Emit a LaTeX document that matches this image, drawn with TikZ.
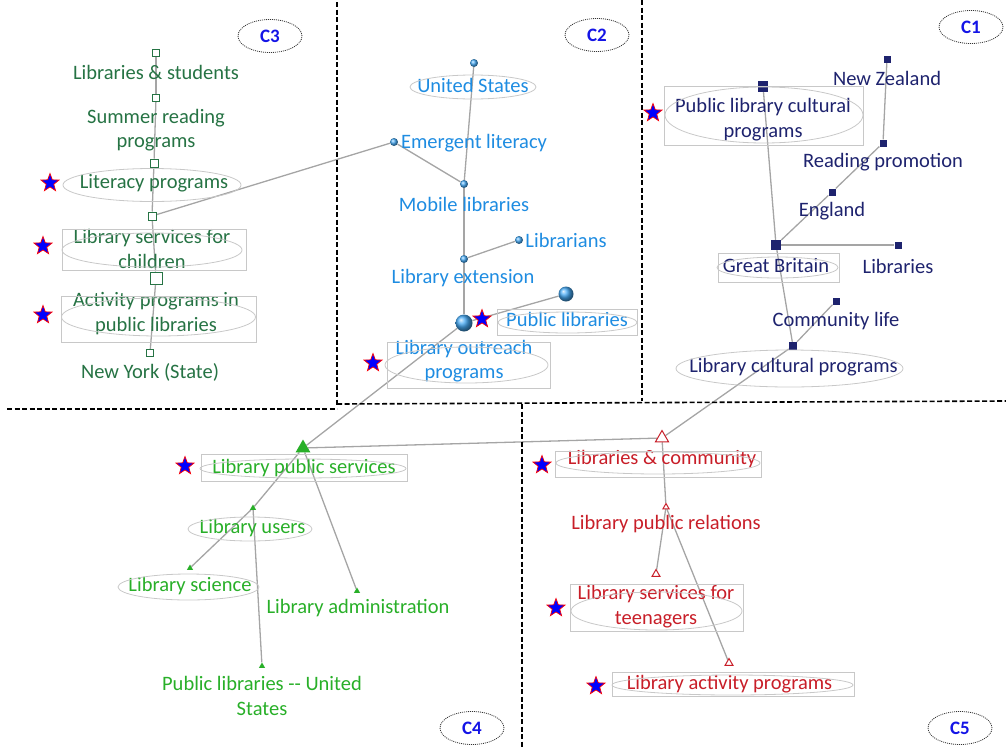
\documentclass[tikz,border=0pt]{standalone}
\usepackage{fontspec}
\setmainfont{Carlito}
\usetikzlibrary{shapes.geometric,backgrounds}
\definecolor{cthree}{RGB}{38,115,68}
\definecolor{ctwo}{RGB}{30,140,225}
\definecolor{cball}{RGB}{70,170,245}
\definecolor{cone}{RGB}{30,35,110}
\definecolor{cfour}{RGB}{40,175,40}
\definecolor{cfive}{RGB}{200,30,40}
\definecolor{edgegray}{RGB}{165,165,165}
\definecolor{framegray}{RGB}{200,200,200}
\definecolor{clusblue}{RGB}{20,20,230}
\begin{document}
\begin{tikzpicture}[x=1pt,y=-1pt,
 lbl/.style={inner sep=0pt, align=center, font=\fontsize{20.5}{24.5}\selectfont},
 ell/.style={draw=framegray, line width=0.8pt},
 frm/.style={draw=framegray, line width=0.8pt},
 edge/.style={draw=edgegray, line width=1.3pt},
 divider/.style={draw=black, line width=1.6pt, dash pattern=on 5pt off 2.5pt},
 mystar/.style={star, star points=5, star point ratio=2.4, fill=blue, draw=red, line width=0.7pt, minimum size=19pt, inner sep=0pt},
 clus/.style={ellipse, draw=black!80, line width=0.8pt, dash pattern=on 1pt off 1pt, minimum width=64pt, minimum height=33pt, inner sep=0pt, text=clusblue, font=\fontsize{19}{20}\selectfont\bfseries},
 sqthree/.style={rectangle, draw=cthree, fill=white, line width=1pt, minimum size=7pt, inner sep=0pt},
 balltwo/.style={circle, ball color=cball, minimum size=8pt, inner sep=0pt},
 sqone/.style={rectangle, fill=cone, minimum size=7pt, inner sep=0pt},
 trifour/.style={regular polygon, regular polygon sides=3, fill=cfour, minimum size=9pt, inner sep=0pt},
 trifive/.style={regular polygon, regular polygon sides=3, draw=cfive, fill=white, line width=1pt, minimum size=9pt, inner sep=0pt}
]
\useasboundingbox (0,0) rectangle (1006,747);

% ---------------- C3 ----------------
\node[clus] (k3) at (270,36) {C3};
\node[sqthree] (t1) at (156,53) {};
\node[lbl,text=cthree] (l31) at (156,72) {Libraries \& students};
\node[sqthree] (t2) at (156,98) {};
\node[lbl,text=cthree] (l32) at (156,130) {Summer reading\\programs};
\node[sqthree, minimum size=8pt] (t3) at (154,163) {};
\node[lbl,text=cthree] (l33) at (154,183) {Literacy programs};
\draw[ell] (152,185) ellipse [x radius=89, y radius=16.5];
\node[mystar] (s31) at (50,183) {};
\node[sqthree, minimum size=8pt] (t4) at (152,216) {};
\node[lbl,text=cthree] (l34) at (152,249) {Library services for\\children};
\draw[frm] (154,249.5) ++(-92,-20.5) rectangle ++(184,41);
\draw[ell] (152,250) ellipse [x radius=90, y radius=17];
\node[mystar] (s32) at (43,246) {};
\node[sqthree, minimum size=12pt] (t5) at (156,278) {};
\node[lbl,text=cthree] (l35) at (156,313.5) {Activity programs in\\public libraries};
\draw[frm] (158.5,319) ++(-97.5,-23) rectangle ++(195,46);
\draw[ell] (158.5,317) ellipse [x radius=97, y radius=19];
\node[mystar] (s33) at (43,315) {};
\node[sqthree] (t6) at (150,353) {};
\node[lbl,text=cthree] (l36) at (150,372) {New York (State)};

% ---------------- C2 ----------------
\node[clus] (k2) at (597,35) {C2};
\node[balltwo] (b1) at (474,63) {};
\node[lbl,text=ctwo] (l21) at (473,85) {United States};
\draw[ell] (473,87) ellipse [x radius=63, y radius=12];
\node[balltwo] (b2) at (394,142) {};
\node[lbl,text=ctwo] (l22) at (474,143) {Emergent literacy};
\node[balltwo] (b3) at (464,184) {};
\node[lbl,text=ctwo] (l23) at (464,204) {Mobile libraries};
\node[balltwo] (b4) at (519,240) {};
\node[lbl,text=ctwo] (l24) at (566,240) {Librarians};
\node[balltwo] (b5) at (464,259) {};
\node[lbl,text=ctwo] (l25) at (463,278) {Library extension};
\node[balltwo, minimum size=15pt] (b6) at (566,294) {};
\node[balltwo, minimum size=17pt] (b7) at (464,323) {};
\node[lbl,text=ctwo] (l26) at (567,319) {Public libraries};
\draw[frm] (567,322) ++(-70,-13) rectangle ++(140,26);
\draw[ell] (567.5,322.5) ellipse [x radius=69.5, y radius=10.5];
\node[mystar] (s21) at (482,319) {};
\node[lbl,text=ctwo] (l27) at (464,361) {Library outreach\\programs};
\draw[frm] (468.5,365) ++(-81.5,-23) rectangle ++(163,46);
\draw[ell] (466.5,365) ellipse [x radius=81.5, y radius=18];
\node[mystar] (s22) at (373,363) {};

% ---------------- C1 ----------------
\node[clus] (k1) at (971,27) {C1};
\node[sqone] (n1) at (887,59) {};
\node[lbl,text=cone] (l11) at (887,78) {New Zealand};
\node[sqone, minimum width=10pt, minimum height=11pt,
  path picture={\draw[white,line width=1pt] (path picture bounding box.west) -- (path picture bounding box.east);}] (n2) at (763,86) {};
\node[lbl,text=cone] (l12) at (763,119.5) {Public library cultural\\programs};
\draw[frm] (763.5,115.5) ++(-99.5,-29.5) rectangle ++(199,59);
\draw[ell] (764,115) ellipse [x radius=99, y radius=28];
\node[mystar] (s11) at (653,113) {};
\node[sqone] (n3) at (883,143) {};
\node[lbl,text=cone] (l13) at (883,162) {Reading promotion};
\node[sqone] (n4) at (832,192) {};
\node[lbl,text=cone] (l14) at (832,211) {England};
\node[sqone, minimum size=10pt] (n5) at (776,245) {};
\node[lbl,text=cone] (l15) at (776,266) {Great Britain};
\draw[frm] (778.5,267.5) ++(-60.5,-14.5) rectangle ++(121,29);
\draw[ell] (777.5,267.5) ellipse [x radius=60.5, y radius=10.5];
\node[sqone] (n6) at (898,245) {};
\node[lbl,text=cone] (l16) at (898,266) {Libraries};
\node[sqone] (n7) at (836,301) {};
\node[lbl,text=cone] (l17) at (836,321) {Community life};
\node[sqone, minimum size=8pt] (n8) at (793,346) {};
\node[lbl,text=cone] (l18) at (793.5,367) {Library cultural programs};
\draw[ell] (789.5,368.5) ellipse [x radius=113.5, y radius=18.5];

% ---------------- C4 ----------------
\node[clus] (k4) at (472,728) {C4};
\node[trifour, minimum size=17pt] (a1) at (303,448) {};
\node[lbl,text=cfour] (l41) at (304,468) {Library public services};
\draw[frm] (304,467.5) ++(-103,-13.5) rectangle ++(206,27);
\draw[ell] (303,468.5) ellipse [x radius=103, y radius=9.5];
\node[mystar] (s41) at (185,466) {};
\node[trifour, minimum size=7pt] (a2) at (253,508) {};
\node[lbl,text=cfour] (l42) at (252.5,528) {Library users};
\draw[ell] (250,529) ellipse [x radius=62, y radius=12];
\node[trifour, minimum size=7pt] (a3) at (190,568) {};
\node[lbl,text=cfour] (l43) at (190,586) {Library science};
\draw[ell] (188.5,587) ellipse [x radius=70.5, y radius=13];
\node[trifour, minimum size=7pt] (a4) at (357,591) {};
\node[lbl,text=cfour] (l44) at (358,608) {Library administration};
\node[trifour, minimum size=7pt] (a5) at (262,666) {};
\node[lbl,text=cfour] (l45) at (262,696) {Public libraries -{}- United\\States};

% ---------------- C5 ----------------
\node[clus] (k5) at (960,728) {C5};
\node[trifive, minimum size=15pt] (f1) at (662,438) {};
\node[lbl,text=cfive] (l51) at (662,459) {Libraries \& community};
\draw[frm] (658,464) ++(-103,-13) rectangle ++(206,26);
\draw[ell] (658,463) ellipse [x radius=102, y radius=11];
\node[mystar] (s51) at (542,465) {};
\node[trifive, minimum size=7pt] (f2) at (666,507) {};
\node[lbl,text=cfive] (l52) at (666,524) {Library public relations};
\node[trifive] (f3) at (656,574) {};
\node[lbl,text=cfive] (l53) at (656,606.5) {Library services for\\teenagers};
\draw[frm] (656.5,607.5) ++(-86.5,-23.5) rectangle ++(173,47);
\draw[ell] (656.5,611) ellipse [x radius=85.5, y radius=19];
\node[mystar] (s52) at (556,608) {};
\node[trifive] (f4) at (729,663) {};
\node[lbl,text=cfive] (l54) at (729.5,684) {Library activity programs};
\draw[frm] (733,684) ++(-121,-12) rectangle ++(242,24);
\draw[ell] (732.5,685) ellipse [x radius=120.5, y radius=10];
\node[mystar] (s53) at (596,686) {};

% ---------------- connectors ----------------
\begin{scope}[on background layer]
\draw[edge] (t1) -- (t2);
\draw[edge] (t2) -- (t3);
\draw[edge] (t3) -- (t4);
\draw[edge] (t4) -- (t5);
\draw[edge] (t5) -- (t6);
\draw[edge] (b2) -- (t4);
\draw[edge] (b1) -- (b3);
\draw[edge] (b2) -- (b3);
\draw[edge] (b3) -- (b5);
\draw[edge] (b5) -- (b4);
\draw[edge] (b5) -- (b7);
\draw[edge] (b7) -- (b6);
\draw[edge] (b7) -- (a1);
\draw[edge] (n1) -- (n3);
\draw[edge] (n3) -- (n4);
\draw[edge] (n4) -- (n5);
\draw[edge] (n5) -- (n6);
\draw[edge] (n2) -- (n5);
\draw[edge] (n5) -- (n8);
\draw[edge] (n7) -- (n8);
\draw[edge] (n8) -- (f1);
\draw[edge] (a1) -- (f1);
\draw[edge] (a1) -- (a2);
\draw[edge] (a2) -- (a3);
\draw[edge] (a2) -- (a5);
\draw[edge] (a1) -- (a4);
\draw[edge] (f1) -- (f2);
\draw[edge] (f2) -- (f3);
\draw[edge] (f2) -- (f4);
% dividers
\draw[divider] (337,2) -- (337,405);
\draw[divider] (642,0) -- (642,401);
\draw[divider] (7,409) -- (337,409);
\draw[divider] (337,404) -- (1006,401);
\draw[divider] (522,404) -- (522,747);
\end{scope}
\end{tikzpicture}
\end{document}
